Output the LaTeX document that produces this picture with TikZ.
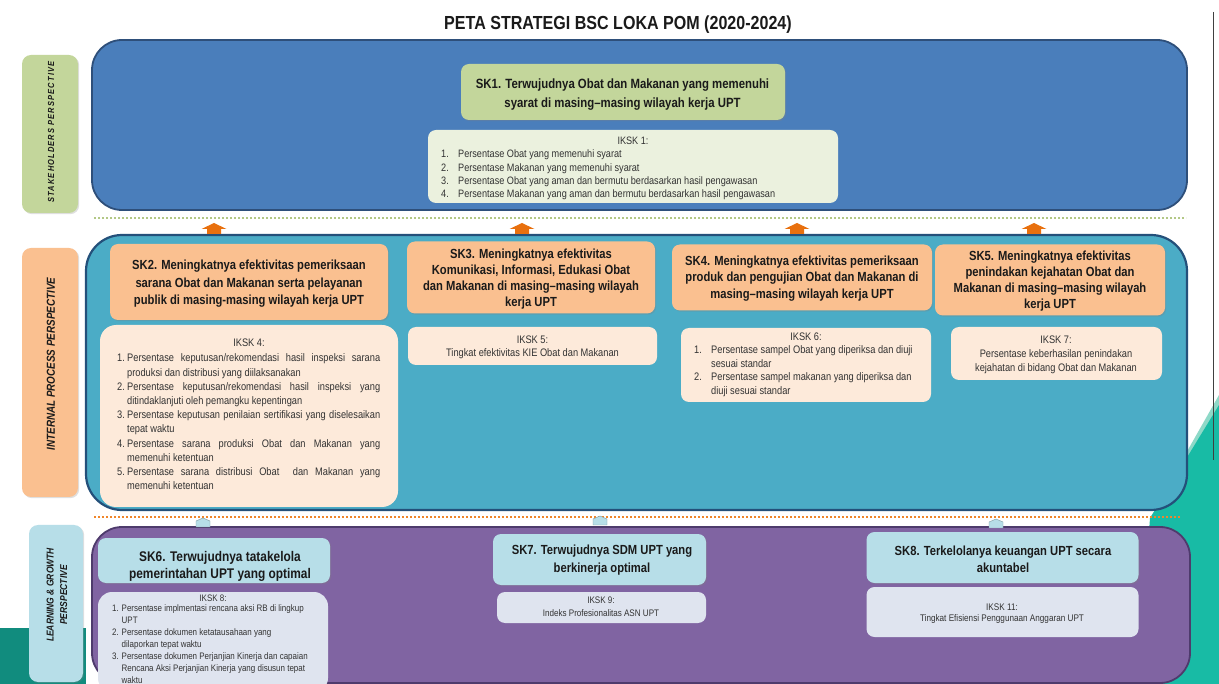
\documentclass[tikz,border=0pt]{standalone}
\usepackage{fontspec}
\setmainfont{Liberation Sans}[FakeStretch=0.85]
\newfontfamily\labfont{Liberation Sans}[FakeStretch=0.85, LetterSpace=13]
\usetikzlibrary{shadows}
\definecolor{bigblue}{HTML}{4A7EBB}
\definecolor{bigblueline}{HTML}{2E4F7A}
\definecolor{bigteal}{HTML}{4BACC6}
\definecolor{tealline}{HTML}{24507A}
\definecolor{bigpurple}{HTML}{8064A2}
\definecolor{purpleline}{HTML}{4E3B6C}
\definecolor{skgreen}{HTML}{C3D69B}
\definecolor{ikgreen}{HTML}{EBF1DE}
\definecolor{skorange}{HTML}{FAC090}
\definecolor{ikpeach}{HTML}{FDEADA}
\definecolor{skblue}{HTML}{B7DEE8}
\definecolor{iklav}{HTML}{DFE4EF}
\definecolor{arroworange}{HTML}{E8700E}
\definecolor{dotgreen}{HTML}{B3C886}
\definecolor{dotorange}{HTML}{F0862A}
\definecolor{decoteal}{HTML}{18BBA5}
\definecolor{decolight}{HTML}{8ED9C8}
\definecolor{decodark}{HTML}{118C7E}
\definecolor{txt}{HTML}{1A1A1A}
\definecolor{iktxt}{HTML}{333333}
\newcommand\jitem[2]{\noindent\hangindent=10pt\hangafter=1\makebox[10pt][l]{#1}#2\par}
\begin{document}
\begin{tikzpicture}[x=1pt,y=-1pt,
  bigbox/.style={line width=1.8pt, rounded corners=30pt, inner sep=0pt},
  labbox/.style={rounded corners=9pt, inner sep=0pt, drop shadow={opacity=0.25,shadow xshift=1.2pt,shadow yshift=-1.2pt}},
  skbox/.style={rounded corners=8pt, inner sep=0pt, drop shadow={opacity=0.3,shadow xshift=1.2pt,shadow yshift=-1.2pt}},
  ikbox/.style={rounded corners=8pt, inner sep=0pt},
  sktext/.style={align=center, inner sep=0pt, text=txt},
  ikhead/.style={inner sep=0pt, text=iktxt},
  iklist/.style={align=left, inner sep=0pt, text=iktxt},
  uparr/.pic={\fill[arroworange] (-12.5,0) -- (0,-6) -- (12.5,0) -- (7,0) -- (7,5) -- (-7,5) -- (-7,0) -- cycle;},
  tab/.pic={\filldraw[fill=skblue, draw=skblue!70!black, line width=0.4pt] (-7,4) -- (-7,-2) -- (0,-5) -- (7,-2) -- (7,4) -- cycle;}
]
\useasboundingbox (0,0) rectangle (1219,684);
\fill[white] (0,0) rectangle (1219,684);
% decorations
\fill[decolight] (1219,395) -- (1185,455) -- (1219,470) -- cycle;
\fill[decoteal] (1219,405) -- (1150,518) -- (1138,684) -- (1219,684) -- cycle;
\fill[decodark] (0,628) rectangle (86,684);
\coordinate (vt) at (1213,12);
\coordinate (vb) at (1213,460);
\draw[black!75, line width=0.8pt] (vt) -- (vb);

% title
\node[inner sep=0pt, font=\bfseries\fontsize{18.9}{22}\selectfont, text=txt] (title) at (618,25) {PETA STRATEGI BSC LOKA POM (2020-2024)};

% big perspective boxes
\node[bigbox, fill=bigblue, draw=bigblueline, minimum width=1095pt, minimum height=170pt] (stk) at (639.5,125) {};
\node[bigbox, fill=bigteal, draw=tealline, line width=2.2pt, rounded corners=36pt, minimum width=1101pt, minimum height=275pt] (ipp) at (636.5,372.5) {};
\node[bigbox, fill=bigpurple, draw=purpleline, minimum width=1098pt, minimum height=156pt] (lgp) at (641,605) {};

% dotted separators
\coordinate (gl) at (94,218);
\coordinate (gr) at (1186,218);
\draw[dotgreen, line width=2.6pt, dash pattern=on 2.2pt off 1.8pt] (gl) -- (gr);
\coordinate (ol) at (94,517);
\coordinate (or) at (1180,517);
\draw[dotorange, line width=2.4pt, dash pattern=on 2.2pt off 1.8pt] (ol) -- (or);

% arrows
\pic at (214,229) {uparr};
\pic at (522,229) {uparr};
\pic at (797,229) {uparr};
\pic at (1034,229) {uparr};
\pic at (203,523) {tab};
\pic at (600,521) {tab};
\pic at (996,524) {tab};

% left perspective labels
\node[labbox, fill=skgreen, minimum width=56pt, minimum height=158pt] (lab1) at (50,134) {};
\node[rotate=90, inner sep=0pt, text=txt, font=\labfont\bfseries\itshape\fontsize{8.8}{10}\selectfont] (lab1t) at (51,132) {STAKEHOLDERS PERSPECTIVE};
\node[labbox, fill=skorange, minimum width=56pt, minimum height=249pt] (lab2) at (50,372.5) {};
\node[rotate=90, inner sep=0pt, text=txt, font=\bfseries\itshape\fontsize{11.6}{13}\selectfont] (lab2t) at (51,364) {INTERNAL PROCESS PERSPECTIVE};
\node[labbox, fill=skblue, minimum width=54pt, minimum height=157pt] (lab3) at (56,603.5) {};
\node[rotate=90, inner sep=0pt, align=center, text=txt, font=\bfseries\itshape\fontsize{10}{13.5}\selectfont] (lab3t) at (57,595) {LEARNING \& GROWTH\\PERSPECTIVE};

% SK1 / IKSK1
\node[skbox, fill=skgreen, minimum width=324pt, minimum height=56pt] (sk1) at (623,92) {};
\node[sktext, font=\bfseries\fontsize{13.4}{19}\selectfont] (sk1t) at (622.5,94.5) {SK1. Terwujudnya Obat dan Makanan yang memenuhi\\syarat di masing--masing wilayah kerja UPT};
\node[ikbox, fill=ikgreen, minimum width=410pt, minimum height=73pt] (ik1) at (633,166.5) {};
\node[ikhead, font=\fontsize{10.75}{13.4}\selectfont] (ik1h) at (633,141) {IKSK 1:};
\node[iklist, anchor=west, font=\fontsize{10.75}{13.4}\selectfont] (ik1l) at (441,175) {\makebox[17pt][l]{1.}Persentase Obat yang memenuhi syarat\\
\makebox[17pt][l]{2.}Persentase Makanan yang memenuhi syarat\\
\makebox[17pt][l]{3.}Persentase Obat yang aman dan bermutu berdasarkan hasil pengawasan\\
\makebox[17pt][l]{4.}Persentase Makanan yang aman dan bermutu berdasarkan hasil pengawasan};

% SK2 / IKSK4
\node[skbox, fill=skorange, minimum width=278pt, minimum height=76pt] (sk2) at (249,282) {};
\node[sktext, font=\bfseries\fontsize{13.2}{17.5}\selectfont] (sk2t) at (249,284) {SK2. Meningkatnya efektivitas pemeriksaan\\sarana Obat dan Makanan serta pelayanan\\publik di masing-masing wilayah kerja UPT};
\node[ikbox, fill=ikpeach, rounded corners=16pt, minimum width=298pt, minimum height=182pt] (ik4) at (249,416) {};
\node[ikhead, font=\fontsize{10.9}{14.2}\selectfont] (ik4h) at (249,343) {IKSK 4:};
\node[anchor=west, inner sep=0pt, text width=263pt, align=justify, text=iktxt, font=\fontsize{10.9}{14.2}\selectfont] (ik4l) at (117,422) {%
\jitem{1.}{Persentase keputusan/rekomendasi hasil inspeksi sarana\linebreak produksi dan distribusi yang diilaksanakan}%
\jitem{2.}{Persentase keputusan/rekomendasi hasil inspeksi yang\linebreak ditindaklanjuti oleh pemangku kepentingan}%
\jitem{3.}{Persentase keputusan penilaian sertifikasi yang diselesaikan\linebreak tepat waktu}%
\jitem{4.}{Persentase sarana produksi Obat dan Makanan yang\linebreak memenuhi ketentuan}%
\jitem{5.}{Persentase sarana distribusi Obat\ \ dan Makanan yang\linebreak memenuhi ketentuan}};

% SK3 / IKSK5
\node[skbox, fill=skorange, minimum width=248pt, minimum height=72pt] (sk3) at (531,277.5) {};
\node[sktext, font=\bfseries\fontsize{13.2}{16}\selectfont] (sk3t) at (531,279) {SK3. Meningkatnya efektivitas\\Komunikasi, Informasi, Edukasi Obat\\dan Makanan di masing--masing wilayah\\kerja UPT};
\node[ikbox, fill=ikpeach, minimum width=249pt, minimum height=38pt] (ik5) at (532.5,346) {};
\node[ikhead, font=\fontsize{10.9}{13.5}\selectfont] (ik5h) at (532.5,340) {IKSK 5:};
\node[ikhead, font=\fontsize{10.9}{13.5}\selectfont] (ik5l) at (532.5,354) {Tingkat efektivitas KIE Obat dan Makanan};

% SK4 / IKSK6
\node[skbox, fill=skorange, minimum width=260pt, minimum height=66pt] (sk4) at (802,277.5) {};
\node[sktext, font=\bfseries\fontsize{13.2}{16.5}\selectfont] (sk4t) at (802,278.5) {SK4. Meningkatnya efektivitas pemeriksaan\\produk dan pengujian Obat dan Makanan di\\masing--masing wilayah kerja UPT};
\node[ikbox, fill=ikpeach, minimum width=250pt, minimum height=74pt] (ik6) at (806,365) {};
\node[ikhead, font=\fontsize{10.9}{13.6}\selectfont] (ik6h) at (806,337) {IKSK 6:};
\node[iklist, anchor=west, font=\fontsize{10.9}{13.6}\selectfont] (ik6l) at (694,371) {\makebox[17pt][l]{1.}Persentase sampel Obat yang diperiksa dan diuji\\
\hspace*{17pt}sesuai standar\\
\makebox[17pt][l]{2.}Persentase sampel makanan yang diperiksa dan\\
\hspace*{17pt}diuji sesuai standar};

% SK5 / IKSK7
\node[skbox, fill=skorange, minimum width=230pt, minimum height=71pt] (sk5) at (1050,280) {};
\node[sktext, font=\bfseries\fontsize{13.2}{16}\selectfont] (sk5t) at (1050,281) {SK5. Meningkatnya efektivitas\\penindakan kejahatan Obat dan\\Makanan di masing--masing wilayah\\kerja UPT};
\node[ikbox, fill=ikpeach, minimum width=211pt, minimum height=53pt] (ik7) at (1056.5,353.5) {};
\node[ikhead, font=\fontsize{10.9}{14}\selectfont] (ik7h) at (1056,340) {IKSK 7:};
\node[sktext, text=iktxt, font=\fontsize{10.9}{14}\selectfont] (ik7l) at (1056,362) {Persentase keberhasilan penindakan\\kejahatan di bidang Obat dan Makanan};

% SK6 / IKSK8
\node[skbox, fill=skblue, minimum width=232pt, minimum height=45pt] (sk6) at (214,560.5) {};
\node[sktext, font=\bfseries\fontsize{14}{17}\selectfont] (sk6t) at (220,566) {SK6. Terwujudnya tatakelola\\pemerintahan UPT yang optimal};
\node[ikbox, fill=iklav, rounded corners=14pt, minimum width=230pt, minimum height=100pt] (ik8) at (213,642) {};
\node[ikhead, font=\fontsize{9.4}{12}\selectfont] (ik8h) at (213,598) {IKSK 8:};
\node[iklist, anchor=west, font=\fontsize{9.4}{12}\selectfont] (ik8l) at (112,644) {\makebox[9.5pt][l]{1.}Persentase implmentasi rencana aksi RB di lingkup\\
\hspace*{9.5pt}UPT\\
\makebox[9.5pt][l]{2.}Persentase dokumen ketatausahaan yang\\
\hspace*{9.5pt}dilaporkan tepat waktu\\
\makebox[9.5pt][l]{3.}Persentase dokumen Perjanjian Kinerja dan capaian\\
\hspace*{9.5pt}Rencana Aksi Perjanjian Kinerja yang disusun tepat\\
\hspace*{9.5pt}waktu};

% SK7 / IKSK9
\node[skbox, fill=skblue, minimum width=213pt, minimum height=51pt] (sk7) at (599.5,559.5) {};
\node[sktext, font=\bfseries\fontsize{13.2}{17.5}\selectfont] (sk7t) at (602,560) {SK7. Terwujudnya SDM UPT yang\\berkinerja optimal};
\node[ikbox, fill=iklav, minimum width=209pt, minimum height=31pt] (ik9) at (601.5,607.5) {};
\node[ikhead, font=\fontsize{9.5}{12.5}\selectfont] (ik9h) at (601,600) {IKSK 9:};
\node[ikhead, font=\fontsize{9.5}{12.5}\selectfont] (ik9l) at (601,613) {Indeks Profesionalitas ASN UPT};

% SK8 / IKSK11
\node[skbox, fill=skblue, minimum width=272pt, minimum height=51pt] (sk8) at (1002.5,557.5) {};
\node[sktext, font=\bfseries\fontsize{13.2}{17}\selectfont] (sk8t) at (1003,559) {SK8. Terkelolanya keuangan UPT secara\\akuntabel};
\node[ikbox, fill=iklav, minimum width=272pt, minimum height=50pt] (ik11) at (1002.5,612) {};
\node[ikhead, font=\fontsize{9.6}{12.5}\selectfont] (ik11h) at (1002,607) {IKSK 11:};
\node[ikhead, font=\fontsize{9.6}{12.5}\selectfont] (ik11l) at (1002,619.5) {Tingkat Efisiensi Penggunaan Anggaran UPT};
\end{tikzpicture}
\end{document}
